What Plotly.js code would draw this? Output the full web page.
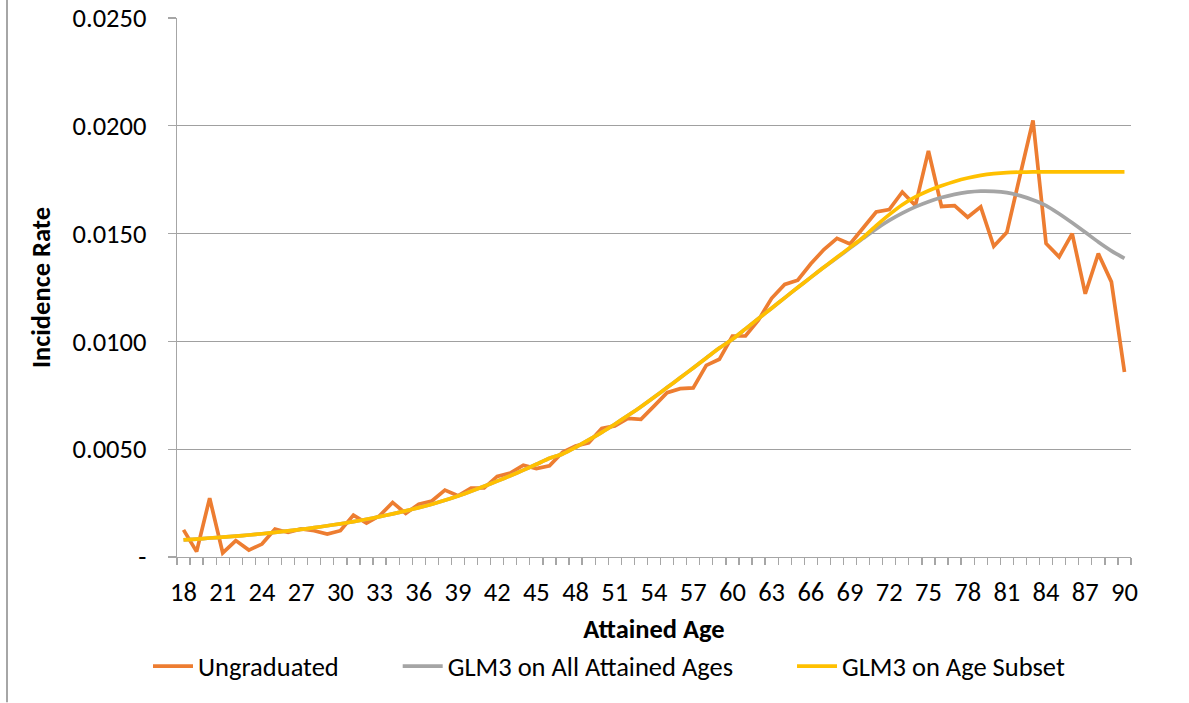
<!DOCTYPE html>
<html>
<head>
<meta charset="utf-8">
<script src="https://cdn.plot.ly/plotly-3.0.1.min.js"></script>
<style>html,body{margin:0;padding:0;background:#fff;} #chart{width:1189px;height:703px;}</style>
</head>
<body>
<div id="chart"></div>
<script>
const ages = [18,19,20,21,22,23,24,25,26,27,28,29,30,31,32,33,34,35,36,37,38,39,40,41,42,43,44,45,46,47,48,49,50,51,52,53,54,55,56,57,58,59,60,61,62,63,64,65,66,67,68,69,70,71,72,73,74,75,76,77,78,79,80,81,82,83,84,85,86,87,88,89,90];

const ungraduated = [0.00126,0.00025,0.00273,0.00019,0.00076,0.00032,0.00060,0.00130,0.00114,0.00130,
  0.00122,0.00106,0.00122,0.00194,0.00157,0.00191,0.00253,0.00202,0.00245,0.00260,
  0.00310,0.00284,0.00320,0.00320,0.00374,0.00389,0.00426,0.00410,0.00423,0.00486,
  0.00515,0.00530,0.00596,0.00608,0.00643,0.00639,0.00700,0.00762,0.00781,0.00784,
  0.00889,0.00917,0.01025,0.01025,0.01100,0.01200,0.01264,0.01284,0.01360,0.01426,
  0.01478,0.01452,0.01526,0.01600,0.01611,0.01693,0.01630,0.01884,0.01626,0.01630,
  0.01576,0.01624,0.01441,0.01506,0.01767,0.02025,0.01454,0.01392,0.01500,0.01221,
  0.01407,0.01276,0.00858];

const glmAll = [0.00079,0.00083,0.00088,0.00092,0.00097,0.00102,0.00108,0.00114,0.00121,0.00128,
  0.00136,0.00145,0.00154,0.00164,0.00175,0.00187,0.00200,0.00214,0.00229,0.00245,
  0.00263,0.00283,0.00305,0.00328,0.00352,0.00377,0.00403,0.00430,0.00458,0.00478,
  0.00509,0.00543,0.00578,0.00616,0.00656,0.00697,0.00741,0.00786,0.00831,0.00877,
  0.00923,0.00969,0.01010,0.01058,0.01106,0.01154,0.01202,0.01250,0.01297,0.01344,
  0.01388,0.01433,0.01478,0.01522,0.01561,0.01595,0.01624,0.01648,0.01667,0.01682,
  0.01692,0.01697,0.01696,0.01690,0.01676,0.01656,0.01630,0.01592,0.01550,0.01506,
  0.01461,0.01420,0.01385];

const glmSubset = [0.00079,0.00083,0.00088,0.00092,0.00097,0.00102,0.00108,0.00114,0.00121,0.00128,
  0.00136,0.00145,0.00154,0.00164,0.00175,0.00187,0.00200,0.00214,0.00229,0.00245,
  0.00263,0.00283,0.00305,0.00328,0.00352,0.00377,0.00403,0.00430,0.00458,0.00478,
  0.00509,0.00543,0.00578,0.00616,0.00656,0.00697,0.00741,0.00786,0.00831,0.00877,
  0.00923,0.00969,0.01010,0.01058,0.01106,0.01154,0.01202,0.01250,0.01297,0.01344,
  0.01390,0.01436,0.01482,0.01537,0.01588,0.01634,0.01670,0.01699,0.01722,0.01742,
  0.01758,0.01770,0.01778,0.01783,0.01785,0.01786,0.01786,0.01786,0.01786,0.01786,
  0.01786,0.01786,0.01786];

const yTickVals = [0, 0.005, 0.010, 0.015, 0.020, 0.025];
const yTickText = ['-', '0.0050', '0.0100', '0.0150', '0.0200', '0.0250'];
const xTickVals = ages.filter((a, i) => i % 3 === 0);

const seriesNames = ['Ungraduated', 'GLM3 on All Attained Ages', 'GLM3 on Age Subset'];
const seriesColors = ['#ED7D31', '#A5A5A5', '#FFC000'];
const seriesData = [ungraduated, glmAll, glmSubset];

const FONT = "Carlito, Calibri, Lato, sans-serif";
const FS = 26.5;
const PAD = '\u00A0'.repeat(9);

const traces = seriesData.map((d, i) => ({
  x: ages, y: d, type: 'scatter', mode: 'lines',
  name: seriesNames[i] + (i < seriesNames.length - 1 ? PAD : ''),
  line: {color: seriesColors[i], width: 3.7, shape: i === 0 ? 'linear' : 'spline', smoothing: 0.6}
}));

const L = 177, R = 58, T = 18, B = 145.5;
const W = 1189, H = 703;
const pw = W - L - R, ph = H - T - B;

const layout = {
  width: W, height: H,
  margin: {l: L, r: R, t: T, b: B},
  paper_bgcolor: '#fff', plot_bgcolor: '#fff',
  font: {family: FONT, size: FS, color: '#000'},
  showlegend: true,
  legend: {orientation: 'h', x: (609 - L) / pw, xanchor: 'center', y: (H - B - 667) / ph, yanchor: 'middle',
           font: {family: FONT, size: FS, color: '#000'}, itemwidth: 40, traceorder: 'normal'},
  xaxis: {
    range: [17.5, 90.5], tickmode: 'array', tickvals: xTickVals, ticks: '',
    showgrid: false, zeroline: false, showline: true, linecolor: '#A6A6A6', linewidth: 1.3,
    ticklabelstandoff: 11,
    tickfont: {family: FONT, size: FS, color: '#000'},
    minor: {tickmode: 'linear', tick0: 17.5, dtick: 1, ticks: 'outside', ticklen: 7, tickcolor: '#A6A6A6', tickwidth: 1.3, showgrid: false},
    title: {text: '<b>Attained Age</b>', font: {family: FONT, size: FS, color: '#000'}, standoff: 12}
  },
  yaxis: {
    range: [0, 0.025], tickmode: 'array', tickvals: yTickVals, ticktext: yTickText,
    ticks: 'outside', ticklen: 8, tickcolor: '#A6A6A6', tickwidth: 1.3,
    showgrid: true, gridcolor: '#A0A0A0', gridwidth: 1.3,
    zeroline: false, showline: true, linecolor: '#A6A6A6', linewidth: 1.3,
    ticklabelstandoff: 16,
    tickfont: {family: FONT, size: FS, color: '#000'},
    title: {text: '<b>Incidence Rate</b>', font: {family: FONT, size: FS, color: '#000'}, standoff: 14}
  },
  shapes: [{
    type: 'line', xref: 'paper', yref: 'paper',
    x0: (7 - L) / pw, x1: (7 - L) / pw, y0: (H - B) / ph, y1: (H - B - H) / ph,
    line: {color: '#A6A6A6', width: 2}
  }]
};

Plotly.newPlot('chart', traces, layout, {displayModeBar: false, staticPlot: true});
</script>
</body>
</html>
